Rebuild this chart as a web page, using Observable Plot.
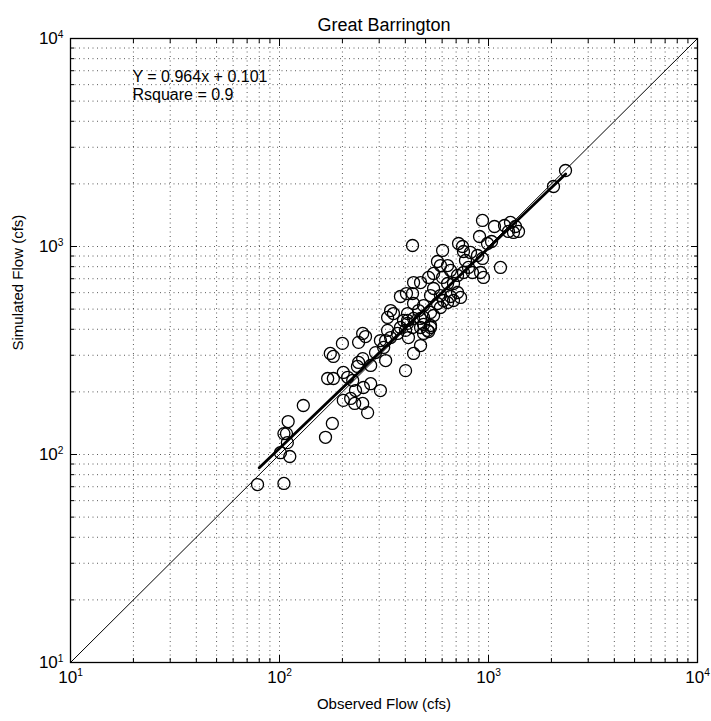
<!DOCTYPE html>
<html>
<head>
<meta charset="utf-8">
<script src="https://cdn.jsdelivr.net/npm/d3@7"></script>
<script src="https://cdn.jsdelivr.net/npm/@observablehq/plot@0.6"></script>
<style>
  html, body { margin: 0; padding: 0; background: #fff; }
</style>
</head>
<body>
<div id="chart"></div>
<script>
const title = "Great Barrington";
const xLabel = "Observed Flow (cfs)";
const yLabel = "Simulated Flow (cfs)";
const eqText = ["Y = 0.964x + 0.101", "Rsquare = 0.9"];
const eqX = [19.8, 19.8];
const eqY = [6560, 5380];

const majorTicks = [10, 100, 1000, 10000];
const majorLabels = ["10^1", "10^2", "10^3", "10^4"];
const minorTicks = [20, 30, 40, 50, 60, 70, 80, 90,
                    200, 300, 400, 500, 600, 700, 800, 900,
                    2000, 3000, 4000, 5000, 6000, 7000, 8000, 9000];

// Observed / simulated flows (cfs)
const observed = [2336, 2046, 936, 1068, 1274, 1346, 1317, 1246, 1392, 1193,
  906, 1034, 989, 433, 603, 719, 751, 759, 820, 886,
  936, 1141, 570, 589, 637, 658, 776, 802, 759, 838,
  916, 946, 546, 517, 473, 438, 603, 637, 680, 711,
  433, 405, 546, 528, 589, 609, 570, 711, 735, 680,
  658, 438, 463, 410, 489, 546, 637, 589, 489, 528,
  379, 351, 329, 340, 410, 438, 473, 489, 528, 517,
  379, 401, 329, 340, 322, 473, 438, 401, 367, 304,
  322, 304, 200, 239, 250, 258, 175, 181, 250, 239,
  236, 273, 170, 181, 202, 212, 224, 273, 252, 231,
  202, 219, 229, 250, 264, 130, 110, 105, 108, 109,
  101, 112, 78.5, 105, 166, 179,
  392, 410, 433, 473, 511, 528, 489, 414, 288, 315];
const simulated = [2320, 1943, 1334, 1248, 1305, 1248, 1168, 1181, 1181, 1262,
  1117, 1057, 1034, 1011, 957, 1034, 1000, 946, 936, 905,
  876, 793, 847, 810, 810, 767, 857, 793, 750, 750,
  750, 710, 742, 710, 671, 671, 710, 664, 664, 726,
  594, 594, 628, 581, 581, 550, 532, 601, 569, 550,
  575, 532, 492, 476, 456, 466, 538, 509, 520, 482,
  575, 476, 456, 492, 441, 451, 451, 422, 408, 390,
  408, 395, 395, 365, 353, 334, 306, 253, 382, 353,
  283, 203, 342, 346, 382, 369, 306, 296, 289, 277,
  265, 268, 232, 232, 248, 235, 227, 219, 210, 203,
  182, 186, 176, 176, 159, 172, 144, 126, 126, 114,
  102, 97.8, 71.7, 72.6, 121, 141,
  441, 427, 408, 408, 395, 417, 382, 365, 309, 327];

// Regression line (log-log fit) end points and 1:1 line
const fitObs = [80, 2340];
const fitSim = [86.3, 2230];
const oneObs = [10, 10000];
const oneSim = [10, 10000];

const points = observed.map((o, i) => ({obs: o, sim: simulated[i]}));
const fitLine = fitObs.map((o, i) => ({obs: o, sim: fitSim[i]}));
const oneLine = oneObs.map((o, i) => ({obs: o, sim: oneSim[i]}));
const eqRows = eqText.map((t, i) => ({t, x: eqX[i], y: eqY[i]}));
const fmt = d => majorLabels[majorTicks.indexOf(d)];

const gridStyle = {stroke: "#000", strokeOpacity: 0.65, strokeDasharray: "1,3.5", strokeWidth: 1};

const chart = Plot.plot({
  width: 711,
  height: 721,
  marginLeft: 70,
  marginRight: 14,
  marginTop: 38,
  marginBottom: 59,
  style: {fontFamily: "'Liberation Sans', Arial, sans-serif", fontSize: "15px", background: "#fff", color: "#000"},
  x: {type: "log", domain: [10, 10000], label: null},
  y: {type: "log", domain: [10, 10000], label: null},
  marks: [
    Plot.gridX(minorTicks.concat(majorTicks), gridStyle),
    Plot.gridY(minorTicks.concat(majorTicks), gridStyle),
    Plot.axisX(minorTicks, {anchor: "bottom", tickSize: -4, tickFormat: () => "", label: null}),
    Plot.axisX(minorTicks, {anchor: "top", tickSize: -4, tickFormat: () => "", label: null}),
    Plot.axisY(minorTicks, {anchor: "left", tickSize: -4, tickFormat: () => "", label: null}),
    Plot.axisY(minorTicks, {anchor: "right", tickSize: -4, tickFormat: () => "", label: null}),
    Plot.axisX(majorTicks, {anchor: "bottom", tickSize: -7, tickPadding: 15, tickFormat: fmt, label: null, fontSize: 17}),
    Plot.axisX(majorTicks, {anchor: "top", tickSize: -7, tickFormat: () => "", label: null}),
    Plot.axisY(majorTicks, {anchor: "left", tickSize: -7, tickPadding: 14, tickFormat: fmt, label: null, fontSize: 17}),
    Plot.axisY(majorTicks, {anchor: "right", tickSize: -7, tickFormat: () => "", label: null}),
    Plot.line(oneLine, {x: "obs", y: "sim", stroke: "#000", strokeWidth: 1}),
    Plot.dot(points, {x: "obs", y: "sim", r: 6, stroke: "#000", strokeWidth: 1.3, fill: "none"}),
    Plot.line(fitLine, {x: "obs", y: "sim", stroke: "#000", strokeWidth: 2.8}),
    Plot.frame({stroke: "#000", strokeWidth: 1.3}),
    Plot.text(eqRows, {x: "x", y: "y", text: "t", textAnchor: "start", fontSize: 16, fill: "#000"}),
    Plot.text([title], {text: d => d, frameAnchor: "top", dy: -20, fontSize: 18, fill: "#000"}),
    Plot.text([xLabel], {text: d => d, frameAnchor: "bottom", dy: 46, fontSize: 15, fill: "#000"}),
    Plot.text([yLabel], {text: d => d, frameAnchor: "left", dx: -52, rotate: -90, fontSize: 15, fill: "#000"})
  ]
});

// Render "10^k" tick labels with real superscripts
chart.querySelectorAll("text").forEach(t => {
  const m = /^10\^(\d)$/.exec(t.textContent.trim());
  if (!m) return;
  while (t.firstChild) t.removeChild(t.firstChild);
  const ns = "http://www.w3.org/2000/svg";
  const base = document.createElementNS(ns, "tspan");
  base.textContent = "10";
  const sup = document.createElementNS(ns, "tspan");
  sup.textContent = m[1];
  sup.setAttribute("dy", "-0.6em");
  sup.setAttribute("font-size", "60%");
  t.appendChild(base);
  t.appendChild(sup);
});

document.getElementById("chart").appendChild(chart);
</script>
</body>
</html>
